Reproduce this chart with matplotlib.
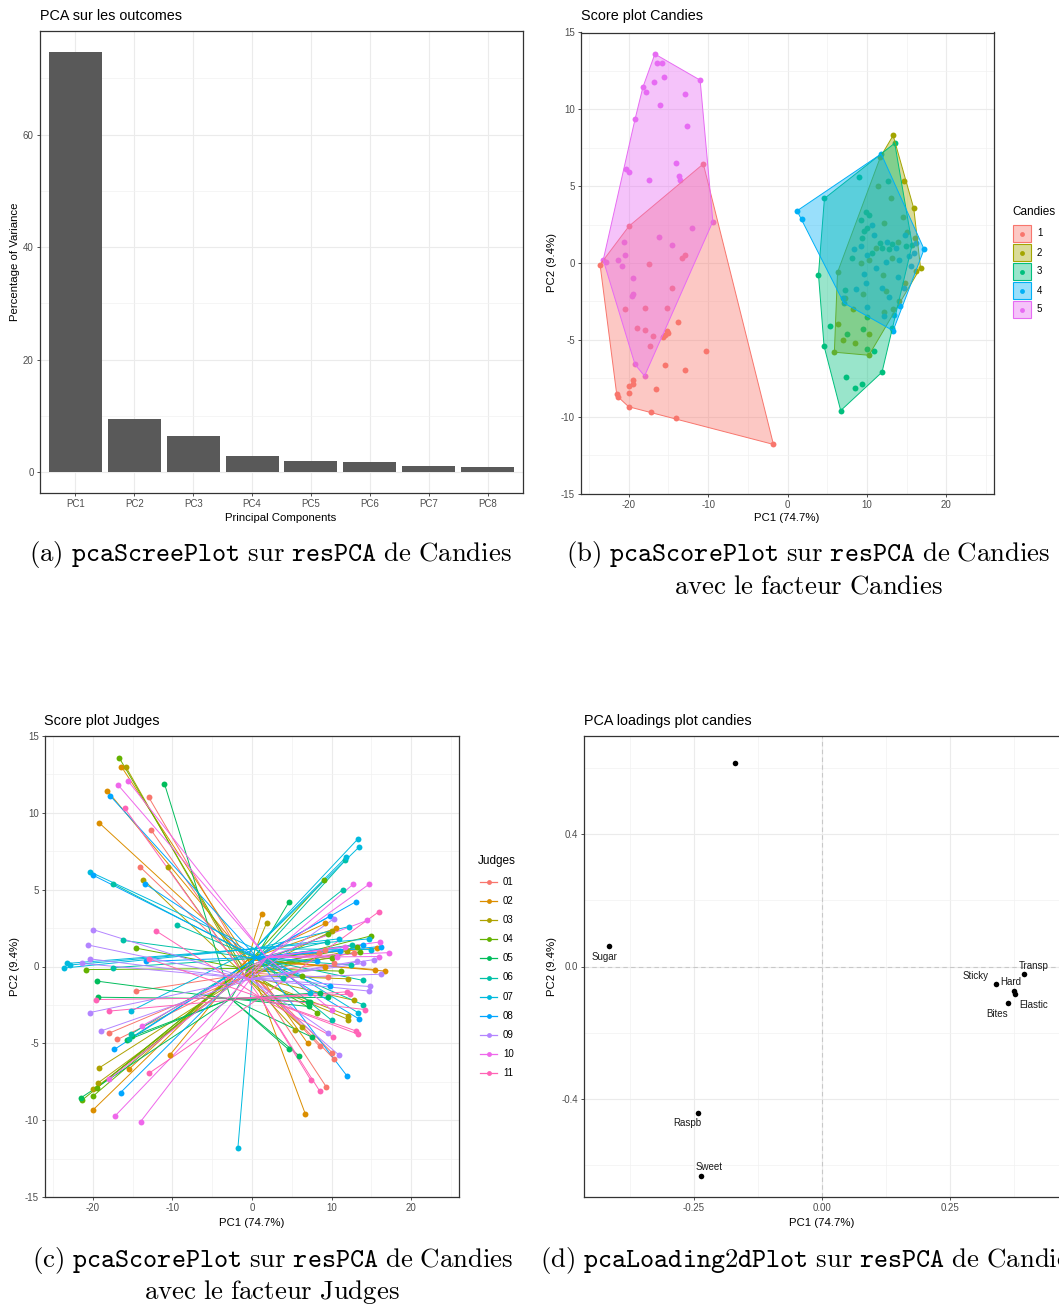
import numpy as np
import matplotlib.pyplot as plt
from matplotlib.patches import Polygon, Rectangle
from matplotlib.colors import to_rgba

plt.rcParams['font.family'] = ['Liberation Sans', 'DejaVu Sans']
plt.rcParams['mathtext.fontset'] = 'cm'
plt.rcParams['axes.unicode_minus'] = False

# ---------------- data ----------------
pc_names = ["PC1", "PC2", "PC3", "PC4", "PC5", "PC6", "PC7", "PC8"]
pc_var = [74.7, 9.4, 6.4, 2.9, 2.0, 1.7, 1.1, 0.9]

candy1_pc1 = [-10.6, -19.96, -23.6, -13.8, -15.2, -15.05, -15.4, -15.7, -10.3, -15.4, -12.95,
              -19.4, -19.5, -19.96, -20.0, -21.5, -21.35, -16.5, -20.0, -17.15, -14.0, -1.77,
              -17.4, -13.3, -12.95, -14.6, -20.4, -17.9, -15.2, -19.0, -18.0, -16.9, -17.3]
candy1_pc2 = [6.45, 2.4, -0.1, -3.86, -4.4, -4.55, -4.7, -4.8, -5.75, -6.65, -6.95,
              -7.6, -7.9, -8.0, -8.45, -8.55, -8.7, -8.2, -9.35, -9.7, -10.1, -11.8,
              -0.07, 0.33, 0.5, -1.6, -3.0, -2.9, -2.9, -4.2, -4.35, -4.75, -5.4]
candy1_judge = [3, 9, 7, 10, 6, 5, 6, 5, 2, 2, 11, 3, 4, 3, 4, 5, 4, 8, 2, 10, 10, 7,
                6, 8, 11, 1, 9, 11, 7, 9, 1, 1, 8]

candy2_pc1 = [13.3, 14.7, 15.9, 16.75, 6.3, 5.9, 10.25, 6.3, 11.7, 13.9, 13.2, 10.25, 9.2,
              12.35, 16.2, 12.1, 8.2, 7.3, 14.0, 12.2, 13.0, 14.5, 10.2, 8.5, 7.0, 12.0,
              15.0, 9.5, 11.4, 13.3, 11.1, 14.8, 16.1]
candy2_pc2 = [8.3, 5.35, 3.55, -0.3, -3.95, -5.8, -6.0, -0.6, 6.9, 1.4, 0.35, 0.2, 0.0,
              -1.8, -0.5, -3.2, -3.0, -2.3, -2.5, 2.6, 4.2, 3.0, -4.6, -5.2, -5.0, -0.8,
              2.0, -2.0, 5.0, -3.0, 1.0, -1.3, 1.6]
candy2_judge = [7, 10, 11, 2, 3, 5, 1, 4, 6, 8, 9, 1, 2, 11, 9, 3, 4, 5, 6, 7, 8, 10, 11,
                1, 2, 3, 4, 5, 6, 7, 8, 9, 10]

candy3_pc1 = [4.65, 13.5, 9.0, 12.7, 3.9, 4.6, 6.7, 8.5, 9.35, 7.4, 11.9, 13.1, 10.9, 10.05,
              5.4, 7.55, 9.5, 10.0, 9.85, 10.25, 9.2, 10.0, 9.6, 9.4, 11.7, 13.2, 11.9,
              12.8, 14.9, 15.7, 8.15, 10.7, 7.3]
candy3_pc2 = [4.2, 7.8, 5.6, 5.35, -0.75, -5.4, -9.6, -8.1, -7.85, -7.4, -7.1, -4.2, -5.75,
              -5.6, -4.1, -4.6, -4.3, -3.5, 3.3, 3.1, 2.8, 2.3, 2.1, 1.6, 1.3, 1.25, 1.0,
              0.9, 1.1, 1.2, 0.35, 0.65, -1.75]
candy3_judge = [5, 7, 4, 10, 6, 5, 2, 11, 1, 11, 8, 11, 9, 1, 3, 5, 9, 6, 8, 9, 2, 3, 4,
                6, 10, 4, 3, 1, 7, 2, 8, 10, 7]

candy4_pc1 = [1.2, 1.85, 11.8, 17.2, 13.3, 13.4, 7.0, 14.75, 9.2, 10.05, 12.4, 14.0, 15.5,
              11.9, 9.85, 12.1, 10.05, 13.6, 15.3, 8.6, 14.7, 10.6, 12.5, 9.6, 11.2, 13.9,
              7.1, 14.2, 15.9, 10.9, 12.8, 16.2, 8.4]
candy4_pc2 = [3.4, 2.85, 7.1, 0.9, -4.4, -3.4, -2.3, 1.8, 1.1, 0.55, 0.1, 0.2, -0.2, -1.65,
              -1.3, -3.45, -2.85, 0.95, 0.45, -1.7, -1.6, 2.5, 1.4, -0.7, -0.3, -0.9, -2.6,
              -2.8, 0.65, 1.8, -2.2, 1.3, 0.9]
candy4_judge = [2, 3, 7, 10, 11, 8, 5, 7, 1, 4, 6, 9, 2, 11, 8, 3, 10, 4, 9, 5, 9, 2, 6,
                1, 4, 6, 5, 11, 10, 7, 3, 8, 1]

candy5_pc1 = [-16.7, -16.4, -15.85, -11.0, -15.6, -16.8, -18.2, -17.8, -12.95, -16.0, -19.2,
              -12.7, -14.1, -20.3, -20.0, -17.5, -13.65, -13.5, -9.4, -12.0, -16.2, -20.6,
              -14.6, -23.2, -22.8, -21.4, -20.4, -20.8, -19.5, -19.6, -19.4, -18.0, -19.2]
candy5_pc2 = [13.6, 13.0, 13.0, 11.9, 12.1, 11.8, 11.45, 11.1, 11.0, 10.3, 9.35, 8.9, 6.5,
              6.15, 5.95, 5.4, 5.65, 5.4, 2.7, 2.3, 1.7, 1.4, 1.2, 0.2, 0.1, 0.2, 0.5, -0.2,
              -0.95, -2.15, -2.0, -7.35, -6.6]
candy5_judge = [4, 2, 3, 5, 10, 10, 2, 8, 1, 11, 2, 1, 1, 7, 8, 6, 3, 8, 6, 11, 6, 9, 4,
                7, 7, 9, 9, 4, 5, 11, 5, 10, 3]

candy_labels = ["1", "2", "3", "4", "5"]
judge_labels = ["01", "02", "03", "04", "05", "06", "07", "08", "09", "10", "11"]

load_names = ["", "Sugar", "Raspb", "Sweet", "Sticky", "Hard", "Elastic", "Bites", "Transp"]
load_pc1 = [-0.170, -0.416, -0.242, -0.237, 0.340, 0.375, 0.378, 0.364, 0.394]
load_pc2 = [0.614, 0.063, -0.442, -0.631, -0.053, -0.073, -0.082, -0.110, -0.023]
# label offsets in points (repel-like placement)
load_offsets = [(0, 0), (-3, -8), (-8, -7), (6, 6), (-15, 6), (-2, 6), (13, -8), (-8, -8), (7, 6)]

candy_pc1 = [candy1_pc1, candy2_pc1, candy3_pc1, candy4_pc1, candy5_pc1]
candy_pc2 = [candy1_pc2, candy2_pc2, candy3_pc2, candy4_pc2, candy5_pc2]
candy_judge = [candy1_judge, candy2_judge, candy3_judge, candy4_judge, candy5_judge]

candy_colors = ["#F8766D", "#A3A500", "#00BF7D", "#00B0F6", "#E76BF3"]
judge_colors = ["#F8766D", "#DB8E00", "#AEA200", "#64B200", "#00BD5C", "#00C1A7",
                "#00BADE", "#00A6FF", "#B385FF", "#EF67EB", "#FF63B6"]

W, H = 1059, 1307
fig = plt.figure(figsize=(W / 100, H / 100), dpi=100)


def axes_px(l, t, r, b):
    return fig.add_axes([l / W, 1 - b / H, (r - l) / W, (b - t) / H])


def text_px(x, y, s, **kw):
    kw.setdefault("va", "center")
    return fig.text(x / W, 1 - y / H, s, **kw)


def style(ax, xmaj, xmin, ymaj, ymin):
    ax.set_xticks(xmaj)
    ax.set_yticks(ymaj)
    if xmin:
        ax.set_xticks(xmin, minor=True)
    if ymin:
        ax.set_yticks(ymin, minor=True)
    ax.tick_params(which="major", length=2.5, width=0.6, color="#333333",
                   labelsize=7, labelcolor="#4D4D4D", pad=2)
    ax.tick_params(which="minor", length=0)
    ax.grid(which="major", color="#EBEBEB", lw=0.8)
    ax.grid(which="minor", color="#F2F2F2", lw=0.5)
    ax.set_axisbelow(True)
    for s in ax.spines.values():
        s.set_color("#333333")
        s.set_linewidth(0.9)


def hull(xs, ys):
    pts = sorted(set(zip(xs, ys)))

    def cross(o, a, b):
        return (a[0] - o[0]) * (b[1] - o[1]) - (a[1] - o[1]) * (b[0] - o[0])

    lower, upper = [], []
    for p in pts:
        while len(lower) >= 2 and cross(lower[-2], lower[-1], p) <= 0:
            lower.pop()
        lower.append(p)
    for p in reversed(pts):
        while len(upper) >= 2 and cross(upper[-2], upper[-1], p) <= 0:
            upper.pop()
        upper.append(p)
    return lower[:-1] + upper[:-1]


# ---------------- (a) scree plot ----------------
ax = axes_px(40, 31, 523, 493)
xpos = np.arange(1, len(pc_var) + 1)
ax.bar(xpos, pc_var, width=0.9, color="#595959", zorder=2)
ax.set_xlim(0.4, len(pc_var) + 0.6)
ax.set_ylim(-3.735, 78.435)
style(ax, xpos, None, [0, 20, 40, 60], [10, 30, 50, 70])
ax.set_xticklabels(pc_names)
text_px(40, 16, "PCA sur les outcomes", fontsize=10.4)
text_px(281, 518, "Principal Components", fontsize=8.2, ha="center")
text_px(15, 262, "Percentage of Variance", fontsize=8.2, ha="center", rotation=90)

# ---------------- (b) score plot candies ----------------
score_xmaj = [-20, -10, 0, 10, 20]
score_xmin = [-25, -15, -5, 5, 15, 25]
score_ymaj = [-15, -10, -5, 0, 5, 10, 15]
score_ymin = [-12.5, -7.5, -2.5, 2.5, 7.5, 12.5]

ax = axes_px(581, 32.5, 994, 493.6)
for xs, ys, c in zip(candy_pc1, candy_pc2, candy_colors):
    ax.scatter(xs, ys, s=18, color=c, linewidths=0, zorder=2)
for xs, ys, c in zip(candy_pc1, candy_pc2, candy_colors):
    ax.add_patch(Polygon(hull(xs, ys), closed=True, facecolor=to_rgba(c, 0.4),
                         edgecolor=c, lw=0.7, zorder=3))
ax.set_xlim(-26, 26)
ax.set_ylim(-15, 15)
style(ax, score_xmaj, score_xmin, score_ymaj, score_ymin)
text_px(581, 16, "Score plot Candies", fontsize=10.4)
text_px(787, 518, "PC1 (74.7%)", fontsize=8.2, ha="center")
text_px(552, 263, "PC2 (9.4%)", fontsize=8.2, ha="center", rotation=90)

lg = axes_px(1000, 195, 1059, 325)
lg.set_xlim(1000, 1059)
lg.set_ylim(325, 195)
lg.axis("off")
lg.text(1012, 212, "Candies", fontsize=8.5, va="center")
for i, (lab, c) in enumerate(zip(candy_labels, candy_colors)):
    yc = 233.5 + i * 19
    lg.add_patch(Rectangle((1013, yc - 8.5), 18, 17, facecolor=to_rgba(c, 0.4),
                           edgecolor=c, lw=0.8))
    lg.plot([1022], [yc], "o", color=c, ms=3.5, mew=0)
    lg.text(1037, yc, lab, fontsize=7, va="center")

# ---------------- (c) score plot judges ----------------
ax = axes_px(45, 736, 459, 1197)
all_x = np.concatenate([np.array(v, float) for v in candy_pc1])
all_y = np.concatenate([np.array(v, float) for v in candy_pc2])
all_j = np.concatenate([np.array(v, int) for v in candy_judge])
for j in range(1, 12):
    m = all_j == j
    cx, cy = all_x[m].mean(), all_y[m].mean()
    for x, y in zip(all_x[m], all_y[m]):
        ax.plot([cx, x], [cy, y], color=judge_colors[j - 1], lw=0.7, zorder=2)
for j in range(1, 12):
    m = all_j == j
    ax.scatter(all_x[m], all_y[m], s=18, color=judge_colors[j - 1], linewidths=0, zorder=3)
ax.set_xlim(-26, 26)
ax.set_ylim(-15, 15)
style(ax, score_xmaj, score_xmin, score_ymaj, score_ymin)
text_px(44, 721, "Score plot Judges", fontsize=10.4)
text_px(252, 1223, "PC1 (74.7%)", fontsize=8.2, ha="center")
text_px(15, 966, "PC2 (9.4%)", fontsize=8.2, ha="center", rotation=90)

lg = axes_px(468, 845, 530, 1090)
lg.set_xlim(468, 530)
lg.set_ylim(1090, 845)
lg.axis("off")
lg.text(478, 861, "Judges", fontsize=8.5, va="center")
for i, (lab, c) in enumerate(zip(judge_labels, judge_colors)):
    yc = 882 + i * 19.1
    lg.plot([480, 497], [yc, yc], color=c, lw=0.9)
    lg.plot([488.5], [yc], "o", color=c, ms=3.5, mew=0)
    lg.text(503, yc, lab, fontsize=7, va="center")

# ---------------- (d) loadings ----------------
ax = axes_px(584, 736, 1060, 1197)
ax.axhline(0, color="#C8C8C8", lw=0.8, ls=(0, (4, 3)), zorder=1)
ax.axvline(0, color="#C8C8C8", lw=0.8, ls=(0, (4, 3)), zorder=1)
ax.scatter(load_pc1, load_pc2, s=16, color="black", linewidths=0, zorder=3)
for name, x, y, off in zip(load_names, load_pc1, load_pc2, load_offsets):
    if name:
        ax.annotate(name, (x, y), xytext=off, textcoords="offset points",
                    ha="center", va="center", fontsize=7, color="#1A1A1A")
ax.set_xlim(-0.465, 0.465)
ax.set_ylim(-0.695, 0.695)
style(ax, [-0.25, 0, 0.25], [-0.375, -0.125, 0.125, 0.375],
      [-0.4, 0, 0.4], [-0.6, -0.2, 0.2, 0.6])
ax.set_xticklabels(["-0.25", "0.00", "0.25"])
ax.set_yticklabels(["-0.4", "0.0", "0.4"])
text_px(584, 721, "PCA loadings plot candies", fontsize=10.4)
text_px(822, 1223, "PC1 (74.7%)", fontsize=8.2, ha="center")
text_px(552, 966, "PC2 (9.4%)", fontsize=8.2, ha="center", rotation=90)

# ---------------- captions ----------------
cap = dict(fontsize=19.3, va="baseline")
text_px(29, 561, r"$\mathrm{(a)}\ \mathtt{pcaScreePlot}\ \mathrm{sur}\ \mathtt{resPCA}\ \mathrm{de\ Candies}$", **cap)
text_px(566, 561, r"$\mathrm{(b)}\ \mathtt{pcaScorePlot}\ \mathrm{sur}\ \mathtt{resPCA}\ \mathrm{de\ Candies}$", **cap)
text_px(808, 593, r"$\mathrm{avec\ le\ facteur\ Candies}$", ha="center", **cap)
text_px(32, 1267, r"$\mathrm{(c)}\ \mathtt{pcaScorePlot}\ \mathrm{sur}\ \mathtt{resPCA}\ \mathrm{de\ Candies}$", **cap)
text_px(272, 1299, r"$\mathrm{avec\ le\ facteur\ Judges}$", ha="center", **cap)
# the reference caption of (d) runs past the right edge of the page
text_px(540, 1267, r"$\mathrm{(d)}\ \mathtt{pcaLoading2dPlot}\ \mathrm{sur}\ \mathtt{resPCA}\ \mathrm{de\ Candies}$", **cap)

fig.savefig("out.png", dpi=100)
